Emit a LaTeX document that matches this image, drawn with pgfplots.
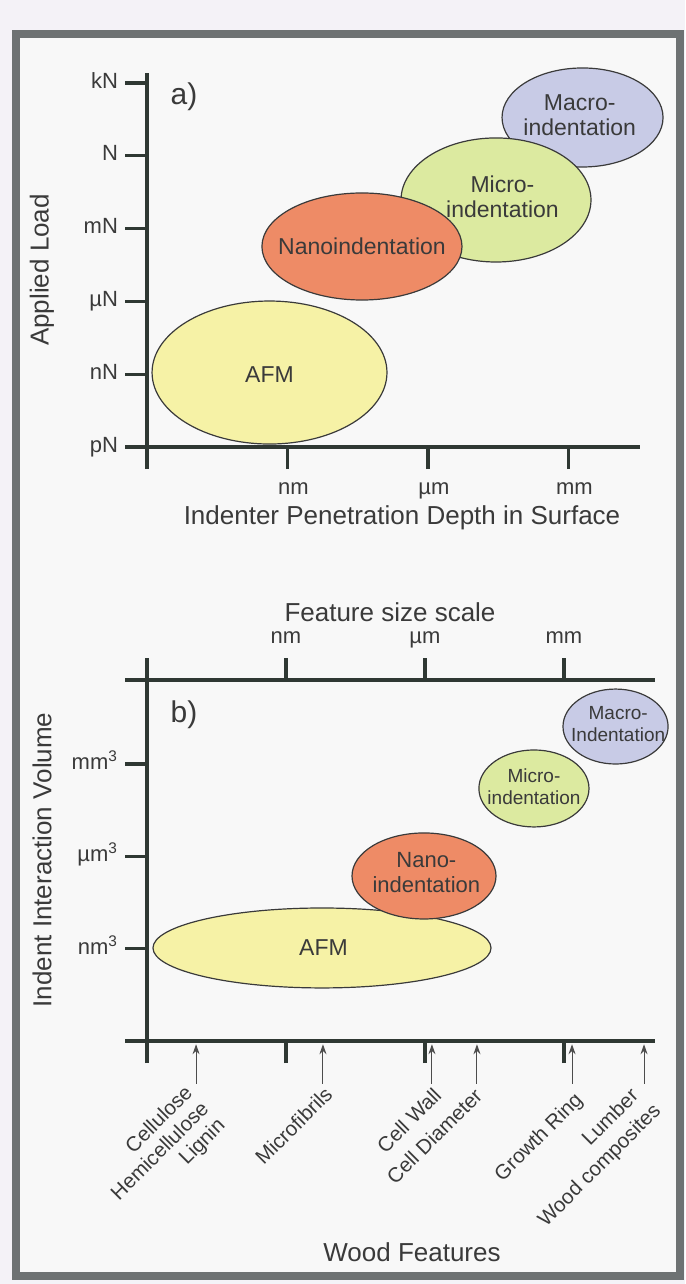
\documentclass[border=0pt]{standalone}
\usepackage{fontspec}
\setmainfont{Liberation Sans}
\usepackage{pgfplots}
\pgfplotsset{compat=1.18}
\usetikzlibrary{arrows.meta}

\definecolor{bgout}{HTML}{F4F2F7}
\definecolor{bgin}{HTML}{F8F8F8}
\definecolor{framec}{HTML}{6E7273}
\definecolor{axcol}{HTML}{2F3833}
\definecolor{txt}{HTML}{3A3A3A}
\definecolor{afm}{HTML}{F6F2A6}
\definecolor{nano}{HTML}{EE8B66}
\definecolor{micro}{HTML}{DCEAA0}
\definecolor{macro}{HTML}{C8CBE6}

\pgfplotsset{
  schem/.style={
    scale only axis, clip=false,
    every tick/.style={axcol, line width=1.6pt},
    major tick length=11pt,
    tick label style={font=\fontsize{11}{13}\selectfont, text=txt},
    typeset ticklabels with strut,
    xmin=0, ymin=0,
  },
  fixlines/.style={
    tick align=outside,
    axis line style={-, axcol, line width=1.6pt},
    every outer x axis line/.append style={-},
    every outer y axis line/.append style={-},
    every inner x axis line/.append style={-},
    every inner y axis line/.append style={-},
  },
}
\tikzset{blob/.style={draw=txt, line width=0.6pt}}

\begin{document}
\begin{tikzpicture}
\begin{scope}[x=0.5pt,y=-0.5pt]
  \useasboundingbox (0,0) rectangle (685,1284);
  \fill[bgout] (0,0) rectangle (685,1284);
  \fill[bgin] (16,34) rectangle (680,1276);
  \draw[framec, line width=4pt] (16,34) rectangle (680,1276);
\end{scope}

% ---- panel a: load vs penetration depth
\begin{axis}[schem,
  at={(73.5pt,-223.5pt)}, anchor=south west,
  width=246.5pt, height=187pt,
  xmax=3.509, ymax=5.137,
  axis x line=bottom, axis y line=left, fixlines,
  xtick={0,1,2,3}, xticklabels={,nm,µm,mm},
  xticklabel style={xshift=3pt},
  ytick={0,1,2,3,4,5}, yticklabels={pN,nN,µN,mN,N,kN},
  ]
  \draw[blob, fill=afm] (axis cs:0.872,1.023) ellipse [x radius=0.836, y radius=0.982];
  \draw[blob, fill=macro] (axis cs:3.100,4.526) ellipse [x radius=0.573, y radius=0.680];
  \draw[blob, fill=micro] (axis cs:2.484,3.393) ellipse [x radius=0.676, y radius=0.852];
  \draw[blob, fill=nano] (axis cs:1.530,2.754) ellipse [x radius=0.712, y radius=0.735];
  \begin{scope}[every node/.style={text=txt, align=center, font=\fontsize{11.5}{12.5}\selectfont}]
    \node at (axis cs:0.872,1.00) {AFM};
    \node at (axis cs:1.530,2.754) {Nanoindentation};
    \node at (axis cs:2.53,3.44) {Micro-\\indentation};
    \node at (axis cs:3.08,4.56) {Macro-\\indentation};
  \end{scope}
\end{axis}

% ---- panel b: interaction volume vs feature size
\begin{axis}[schem,
  at={(73.5pt,-520.5pt)}, anchor=south west,
  width=254pt, height=180.5pt,
  xmax=3.655, ymax=3.911,
  axis x line=box, axis y line=left, fixlines,
  xtick={0,1,2,3}, xticklabels={,nm,µm,mm}, xticklabel pos=right,
  ytick={0,1,2,3,3.911},
  yticklabels={,nm\textsuperscript{3},µm\textsuperscript{3},mm\textsuperscript{3},},
  ]
  \draw[blob, fill=afm] (axis cs:1.259,1.008) ellipse [x radius=1.216, y radius=0.433];
  \draw[blob, fill=nano] (axis cs:1.993,1.788) ellipse [x radius=0.518, y radius=0.466];
  \draw[blob, fill=micro] (axis cs:2.784,2.736) ellipse [x radius=0.396, y radius=0.417];
  \draw[blob, fill=macro] (axis cs:3.371,3.407) ellipse [x radius=0.378, y radius=0.406];
  \node[text=txt, font=\fontsize{11.5}{12.5}\selectfont] at (axis cs:1.27,1.01) {AFM};
  \node[text=txt, align=center, font=\fontsize{11}{12.5}\selectfont] at (axis cs:2.01,1.83) {Nano-\\indentation};
  \node[text=txt, align=center, font=\fontsize{9.5}{11}\selectfont] at (axis cs:2.784,2.76) {Micro-\\indentation};
  \node[text=txt, align=center, font=\fontsize{9.5}{11}\selectfont] at (axis cs:3.39,3.43) {Macro-\\Indentation};
  % wood feature arrows
  \addplot[quiver={u=0,v=0.43}, no markers, draw=black!70, line width=0.5pt,
    -{Stealth[length=5pt,width=3.5pt]}]
    coordinates {(0.353,-0.465) (1.266,-0.465) (2.050,-0.465) (2.374,-0.465) (3.058,-0.465) (3.576,-0.465)};
\end{axis}

\begin{scope}[x=0.5pt,y=-0.5pt, every node/.style={text=txt}]
  \node[font=\fontsize{13}{15}\selectfont, rotate=90] at (42,270) {Applied Load};
  \node[font=\fontsize{13}{15}\selectfont] at (402,518) {Indenter Penetration Depth in Surface};
  \node[font=\fontsize{15}{17}\selectfont] at (184,97) {a)};
  \node[font=\fontsize{15}{17}\selectfont] at (184,715) {b)};
  \node[font=\fontsize{13}{15}\selectfont] at (390,612) {Feature size scale};
  \node[font=\fontsize{13}{15}\selectfont, rotate=90] at (42,860) {Indent Interaction Volume};
  \node[font=\fontsize{13}{15}\selectfont] at (412,1252) {Wood Features};
  \begin{scope}[every node/.append style={rotate=45, anchor=north east, align=right, inner sep=0pt, font=\fontsize{10.3}{11.5}\selectfont}]
    \node at (183,1083) {Cellulose\\Hemicellulose\\Lignin};
    \node at (323,1085) {Microfibrils};
    \node at (432,1086) {Cell Wall};
    \node at (473,1086) {Cell Diameter};
    \node at (573,1090) {Growth Ring};
    \node at (629,1086) {Lumber};
    \node at (651,1101) {Wood composites};
  \end{scope}
\end{scope}
\end{tikzpicture}
\end{document}
